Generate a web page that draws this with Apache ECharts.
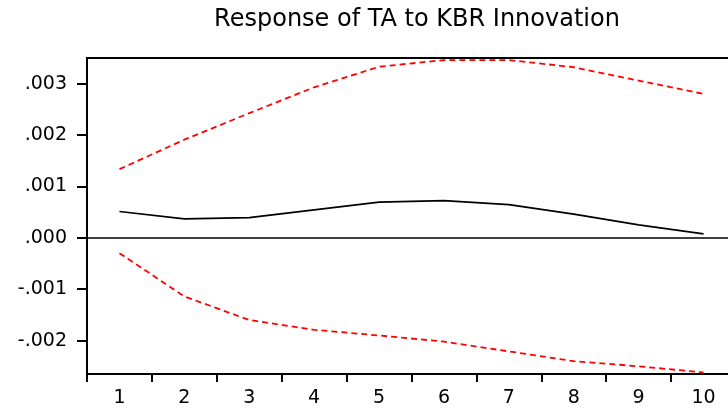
<!DOCTYPE html>
<html><head><meta charset="utf-8">
<script src="https://cdn.jsdelivr.net/npm/echarts@6/dist/echarts.min.js"></script>
<style>html,body{margin:0;padding:0;background:#fff}#c{width:728px;height:412px}</style>
</head><body><div id="c"></div>
<script>
const categories = ['1','2','3','4','5','6','7','8','9','10'];
const response = [0.000512, 0.000370, 0.000395, 0.000545, 0.000694, 0.000726, 0.000648, 0.000460, 0.000253, 0.000078];
const upperBand = [0.001336, 0.001910, 0.002426, 0.002930, 0.003330, 0.003460, 0.003460, 0.003320, 0.003060, 0.002800];
const lowerBand = [-0.000298, -0.001140, -0.001600, -0.001790, -0.001900, -0.002020, -0.002210, -0.002400, -0.002500, -0.002620];
const yTicks = [-0.002, -0.001, 0, 0.001, 0.002, 0.003];
const fmt = v => { const s = Math.abs(v).toFixed(3).replace(/^0/, ''); return (v < -1e-12 ? '-' : '') + s; };
const font = 'DejaVu Sans, sans-serif';
const chart = echarts.init(document.getElementById('c'), null, {renderer:'canvas'});
chart.setOption({
  animation: false,
  backgroundColor: '#fff',
  title: {
    text: 'Response of TA to KBR Innovation',
    left: 412, top: 3, textAlign: 'center',
    textStyle: {fontFamily: font, fontSize: 24, fontWeight: 'normal', color: '#000'}
  },
  grid: {left: 87, top: 58, width: 649, height: 316, outerBoundsMode: 'none', containLabel: false, show: true, borderColor: '#000', borderWidth: 2, backgroundColor: 'transparent'},
  xAxis: {
    type: 'category', data: categories, boundaryGap: true,
    axisLine: {show: true, onZero: false, lineStyle: {color: '#000', width: 2}},
    axisTick: {show: true, length: 8, inside: false, lineStyle: {color: '#000', width: 2}},
    axisLabel: {color: '#000', fontFamily: font, fontSize: 19, margin: 15},
    splitLine: {show: false}
  },
  yAxis: {
    type: 'value', min: -0.00265, max: 0.0035,
    axisLine: {show: true, lineStyle: {color: '#000', width: 2}},
    axisTick: {show: true, length: 10, lineStyle: {color: '#000', width: 2}, customValues: yTicks},
    axisLabel: {color: '#000', fontFamily: font, fontSize: 19, margin: 20, customValues: yTicks, formatter: v => fmt(v)},
    splitLine: {show: false}
  },
  series: [
    {type: 'line', data: upperBand, symbol: 'none', lineStyle: {color: '#ff0000', width: 1.8, type: [6, 4]}},
    {type: 'line', data: lowerBand, symbol: 'none', lineStyle: {color: '#ff0000', width: 1.8, type: [6, 4]}},
    {type: 'line', data: response, symbol: 'none', lineStyle: {color: '#000', width: 1.7},
     markLine: {silent: true, symbol: 'none', label: {show: false}, lineStyle: {color: '#000', width: 1.5, type: 'solid'}, data: [{yAxis: 0}]}}
  ]
});
</script></body></html>
